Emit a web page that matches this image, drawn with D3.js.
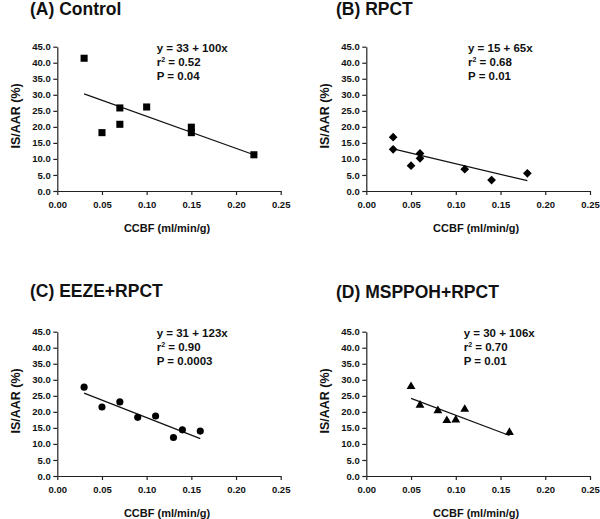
<!DOCTYPE html>
<html>
<head>
<meta charset="utf-8">
<script src="https://cdn.jsdelivr.net/npm/d3@7"></script>
<style>
  html, body { margin: 0; padding: 0; background: #fff; }
  svg { display: block; font-family: "Liberation Sans", Arial, sans-serif; }
</style>
</head>
<body>
<svg id="chart" width="600" height="519"></svg>
<script>
// ---- Data ----
const panelTitles = ["(A) Control", "(B) RPCT", "(C) EEZE+RPCT", "(D) MSPPOH+RPCT"];
const markerShapes = ["square", "diamond", "circle", "triangle"];

const ccbfA  = [0.03, 0.05, 0.07, 0.07, 0.10, 0.15, 0.15, 0.22];
const isaarA = [41.4, 18.2, 25.9, 20.8, 26.2, 19.9, 18.2, 11.3];

const ccbfB  = [0.03, 0.03, 0.05, 0.06, 0.06, 0.11, 0.14, 0.18];
const isaarB = [16.8, 13.0, 7.9, 11.7, 10.2, 6.8, 3.4, 5.5];

const ccbfC  = [0.03, 0.05, 0.07, 0.09, 0.11, 0.13, 0.14, 0.16];
const isaarC = [27.7, 21.5, 23.1, 18.3, 18.7, 12.0, 14.4, 14.0];

const ccbfD  = [0.05, 0.06, 0.08, 0.09, 0.10, 0.11, 0.16];
const isaarD = [27.9, 22.1, 20.4, 17.3, 17.5, 20.8, 13.6];

// regression line (as drawn)
const fitIntercept = [33.3, 15.1, 29.1, 29.5];
const fitSlope     = [-100, -66, -109, -105.5];
const fitXStart    = [0.03, 0.03, 0.03, 0.05];
const fitXEnd      = [0.22, 0.18, 0.16, 0.16];

// annotation labels
const eqLabels = ["y = 33 + 100x", "y = 15 + 65x", "y = 31 + 123x", "y = 30 + 106x"];
const r2Labels = ["0.52", "0.68", "0.90", "0.70"];
const pLabels  = ["P = 0.04", "P = 0.01", "P = 0.0003", "P = 0.01"];

const xTicks = [0, 0.05, 0.10, 0.15, 0.20, 0.25];
const yTicks = [0, 5, 10, 15, 20, 25, 30, 35, 40, 45];
const xLabel = "CCBF (ml/min/g)";
const yLabel = "IS/AAR (%)";

const xsAll = [ccbfA, ccbfB, ccbfC, ccbfD];
const ysAll = [isaarA, isaarB, isaarC, isaarD];

// ---- Layout ----
const layout = [
  { left: 57.3,  right: 280.7, top: 46.7,  bottom: 191, titleX: 30,  titleY: 15,  annX: 156.7 },
  { left: 366.3, right: 590,   top: 46.7,  bottom: 191, titleX: 336, titleY: 15,  annX: 468 },
  { left: 57.3,  right: 280.7, top: 331.7, bottom: 476, titleX: 30,  titleY: 297, annX: 156.7 },
  { left: 366.3, right: 590,   top: 331.7, bottom: 476, titleX: 336, titleY: 298, annX: 463.7 }
];

const svg = d3.select("#chart");

function symbolPath(shape) {
  if (shape === "square") return d3.symbol(d3.symbolSquare, 50)();
  if (shape === "diamond") return d3.symbol(d3.symbolSquare, 38)();
  if (shape === "circle") return d3.symbol(d3.symbolCircle, 40)();
  return d3.symbol(d3.symbolTriangle, 34)();
}

layout.forEach((L, i) => {
  const g = svg.append("g");
  const x = d3.scaleLinear().domain([0, 0.25]).range([L.left, L.right]);
  const y = d3.scaleLinear().domain([0, 45]).range([L.bottom, L.top]);

  // title
  g.append("text")
    .attr("x", L.titleX).attr("y", L.titleY)
    .attr("font-size", 17.5).attr("font-weight", "bold").attr("fill", "#111")
    .text(panelTitles[i]);

  // axes
  const yAxis = d3.axisLeft(y).tickValues(yTicks).tickFormat(d3.format(".1f"))
    .tickSizeInner(4).tickSizeOuter(0).tickPadding(2.5);
  const gy = g.append("g").attr("transform", `translate(${L.left},0)`).call(yAxis);
  const xAxis = d3.axisBottom(x).tickValues(xTicks).tickFormat(d3.format(".2f"))
    .tickSizeInner(4).tickSizeOuter(0).tickPadding(6);
  const gx = g.append("g").attr("transform", `translate(0,${L.bottom})`).call(xAxis);
  [gx, gy].forEach(a => {
    a.select(".domain").attr("stroke", "#222").attr("stroke-width", 1.2);
    a.selectAll(".tick line").attr("stroke", "#222").attr("stroke-width", 1.2);
    a.selectAll(".tick text").attr("font-size", 9.5).attr("font-weight", "bold")
      .attr("fill", "#111").attr("font-family", "Liberation Sans, Arial, sans-serif");
  });

  // axis labels
  const cx = (L.left + L.right) / 2;
  g.append("text")
    .attr("x", cx - 2).attr("y", L.bottom + 41)
    .attr("text-anchor", "middle")
    .attr("font-size", 11).attr("font-weight", "bold").attr("fill", "#111")
    .text(xLabel);
  const cy = (L.top + L.bottom) / 2 - 3;
  g.append("text")
    .attr("transform", `translate(${L.left - 37},${cy}) rotate(-90)`)
    .attr("text-anchor", "middle")
    .attr("font-size", 12.5).attr("font-weight", "bold").attr("fill", "#111")
    .text(yLabel);

  // regression line
  const xs = [fitXStart[i], fitXEnd[i]];
  g.append("path")
    .datum(xs)
    .attr("d", d3.line().x(d => x(d)).y(d => y(fitIntercept[i] + fitSlope[i] * d)))
    .attr("stroke", "#111").attr("stroke-width", 1.2).attr("fill", "none");

  // points
  const pts = xsAll[i].map((v, k) => [v, ysAll[i][k]]);
  const shape = markerShapes[i];
  g.selectAll("path.pt").data(pts).enter().append("path")
    .attr("class", "pt")
    .attr("d", symbolPath(shape))
    .attr("transform", d => `translate(${x(d[0])},${y(d[1])})` + (shape === "diamond" ? " rotate(45)" : ""))
    .attr("fill", "#000");

  // annotation
  const ann = g.append("g").attr("font-size", 11.5).attr("font-weight", "bold").attr("fill", "#111");
  const by = L.top + 5.3;
  ann.append("text").attr("x", L.annX).attr("y", by).text(eqLabels[i]);
  const r2 = ann.append("text").attr("x", L.annX).attr("y", by + 14);
  r2.append("tspan").text("r");
  r2.append("tspan").attr("font-size", 7).attr("dy", -4.5).text("2");
  r2.append("tspan").attr("dy", 4.5).text(" = " + r2Labels[i]);
  ann.append("text").attr("x", L.annX).attr("y", by + 28).text(pLabels[i]);
});
</script>
</body>
</html>
